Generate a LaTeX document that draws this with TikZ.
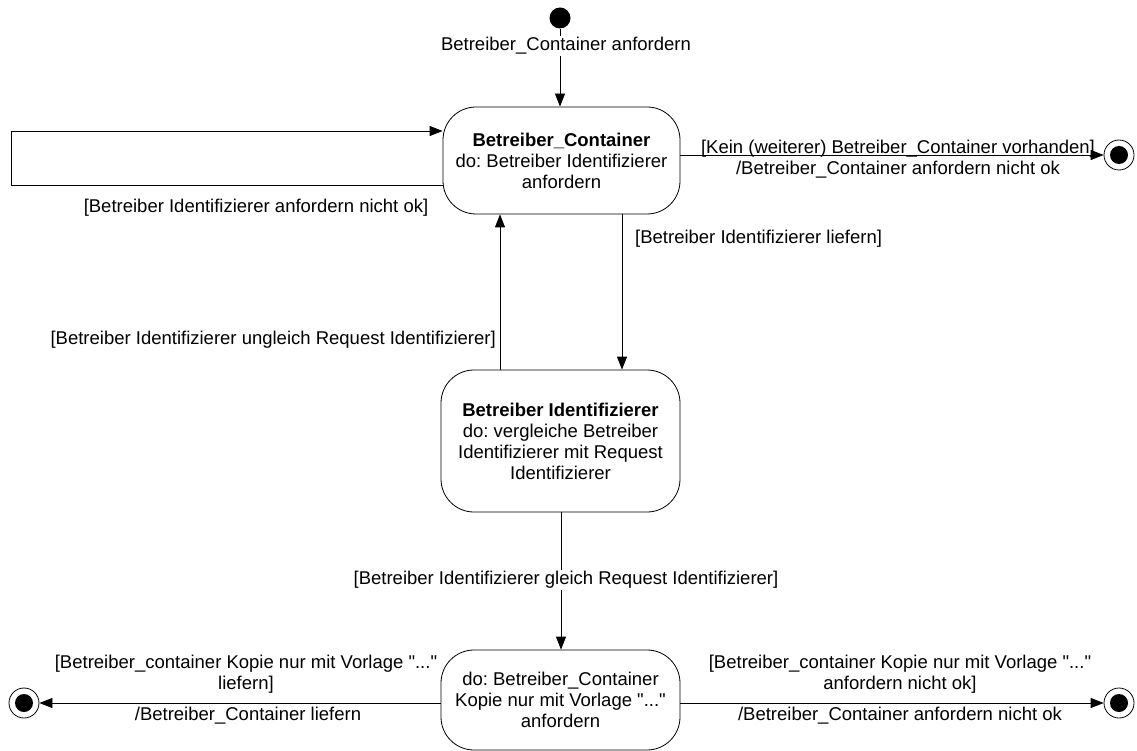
\documentclass[tikz,border=0pt]{standalone}
\usepackage{fontspec}
\setmainfont{Liberation Sans}[Ligatures=TeXOff]
\usetikzlibrary{arrows.meta}
\frenchspacing
\begin{document}
\begin{tikzpicture}[x=1pt,y=-1pt,
  every node/.style={font=\fontsize{18.5}{21}\selectfont, inner sep=1pt},
  state/.style={draw, rectangle, rounded corners=33pt, align=center, line width=0.8pt},
  initstate/.style={circle, fill=black, minimum size=21pt, inner sep=0pt},
  finalstate/.style={circle, draw, line width=0.8pt, minimum size=30pt, inner sep=0pt,
    path picture={\fill (path picture bounding box.center) circle (9pt);}},
  trans/.style={line width=0.8pt, -{Triangle[length=13pt,width=10pt]}},
  lbl/.style={align=center}
]
\useasboundingbox (0,0) rectangle (1137,751);

% states
\node[initstate] (init) at (560,18) {};
\node[state, minimum width=237pt, minimum height=107pt] (b1) at (561.5,160.5)
  {\textbf{Betreiber\_Container}\\do: Betreiber Identifizierer\\anfordern};
\node[state, minimum width=239pt, minimum height=142pt] (b2) at (560.5,441)
  {\textbf{Betreiber Identifizierer}\\do: vergleiche Betreiber\\Identifizierer mit Request\\Identifizierer};
\node[state, minimum width=239pt, minimum height=100pt] (b3) at (560.5,700)
  {do: Betreiber\_Container\\Kopie nur mit Vorlage "..."\\anfordern};
\node[finalstate] (f1) at (1119,155) {};
\node[finalstate] (f2) at (24,703) {};
\node[finalstate] (f3) at (1119,703) {};

% transitions
\draw[trans] (init) -- (init |- b1.north);
\draw[trans] (b1.west |- 0,185) -- (11,185) -- (11,131) -- (b1.west |- 0,131);
\draw[trans] (b1.east |- f1) -- (f1);
\draw[trans] (b1.south -| 622,0) -- (b2.north -| 622,0);
\draw[trans] (b2.north -| 500,0) -- (b1.south -| 500,0);
\draw[trans] (b2.south -| 561,0) -- (b3.north -| 561,0);
\draw[trans] (b3.west |- f2) -- (f2);
\draw[trans] (b3.east |- f3) -- (f3);

% transition labels
\node[lbl, fill=white] (l1) at (566,46) {Betreiber\_Container anfordern};
\node[lbl] (l2) at (256,208) {[Betreiber Identifizierer anfordern nicht ok]};
\node[lbl] (l3) at (898,159.5) {[Kein (weiterer) Betreiber\_Container vorhanden]\\/Betreiber\_Container anfordern nicht ok};
\node[lbl, anchor=west] (l4) at (634,239) {[Betreiber Identifizierer liefern]};
\node[lbl, anchor=east] (l5) at (497,340) {[Betreiber Identifizierer ungleich Request Identifizierer]};
\node[lbl, fill=white] (l6) at (566,580) {[Betreiber Identifizierer gleich Request Identifizierer]};
\node[lbl] (l7) at (246,674) {[Betreiber\_container Kopie nur mit Vorlage "..."\\liefern]};
\node[lbl] (l8) at (248,716) {/Betreiber\_Container liefern};
\node[lbl] (l9) at (900,674) {[Betreiber\_container Kopie nur mit Vorlage "..."\\anfordern nicht ok]};
\node[lbl] (l10) at (900,716) {/Betreiber\_Container anfordern nicht ok};
\end{tikzpicture}
\end{document}
